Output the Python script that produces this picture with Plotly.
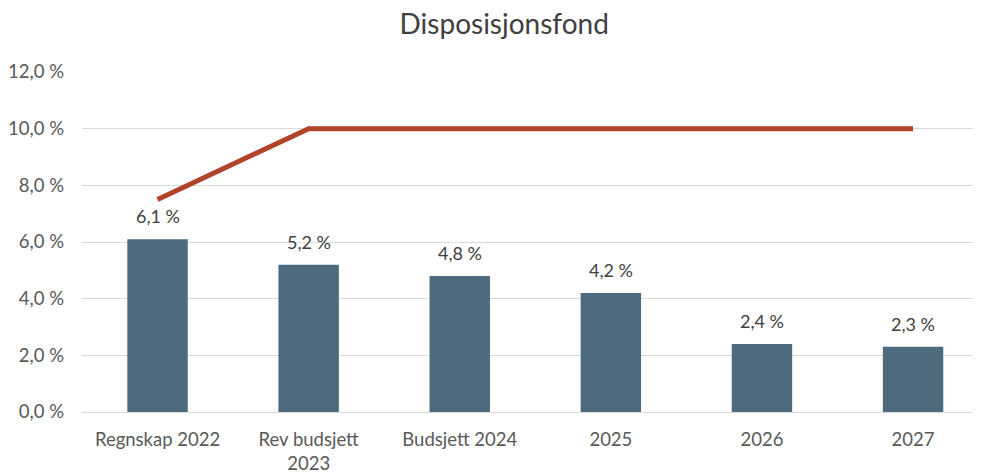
import plotly.graph_objects as go

categories = ["Regnskap 2022", "Rev budsjett<br>2023", "Budsjett 2024", "2025", "2026", "2027"]
bar_values = [6.1, 5.2, 4.8, 4.2, 2.4, 2.3]
line_values = [7.5, 10.0, 10.0, 10.0, 10.0, 10.0]
tick_values = [0, 2, 4, 6, 8, 10, 12]
tick_labels = ["0,0 %", "2,0 %", "4,0 %", "6,0 %", "8,0 %", "10,0 %", "12,0 %"]

font = "Lato, Open Sans, sans-serif"
x = list(range(len(categories)))

fig = go.Figure()
fig.add_trace(go.Bar(
    x=x, y=bar_values, width=0.4,
    marker=dict(color="#4D6B7D", line=dict(width=0)),
    hoverinfo="skip",
))
fig.add_trace(go.Scatter(
    x=x, y=line_values, mode="lines",
    line=dict(color="#B0432A", width=5),
    hoverinfo="skip",
))

# data labels above the bars
for xi, v in zip(x, bar_values):
    fig.add_annotation(
        x=xi, y=v, text=f"{v:.1f} %".replace(".", ","),
        showarrow=False, yanchor="bottom", yshift=10,
        font=dict(size=18, color="#404040", family=font),
    )

# page body has an 8px margin, so the figure is a bit smaller than the window
fig.update_layout(
    width=973, height=464,
    margin=dict(l=74, r=6, t=64, b=60, autoexpand=False),
    paper_bgcolor="white", plot_bgcolor="white",
    showlegend=False,
    title=dict(text="Disposisjonsfond", x=0.51, xanchor="center", y=0.966, yanchor="middle",
               font=dict(size=28, color="#404040", family=font)),
    font=dict(family=font, color="#595959", size=18),
    xaxis=dict(
        tickmode="array", tickvals=x, ticktext=categories,
        range=[-0.5, 5.41], showgrid=False, zeroline=False,
        showline=False, ticks="", automargin=False, ticklabelstandoff=14,
        tickfont=dict(size=18.5, color="#595959"),
    ),
    yaxis=dict(
        range=[0, 12], tickvals=tick_values, ticktext=tick_labels,
        showgrid=True, gridcolor="#D9D9D9", gridwidth=1,
        zeroline=True, zerolinecolor="#D9D9D9", zerolinewidth=1,
        ticks="", ticklabelstandoff=17, automargin=False,
        tickfont=dict(size=18.5, color="#595959"),
    ),
)

fig.write_html("out.html")
